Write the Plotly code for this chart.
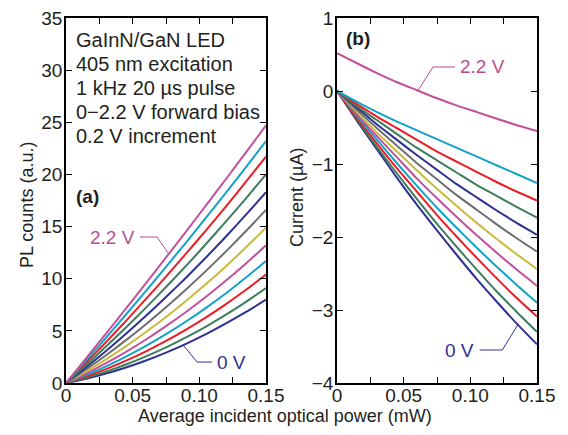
import plotly.graph_objects as go

# ---------------- data ----------------
power_mw = [0.0, 0.015, 0.03, 0.045, 0.06, 0.075, 0.09, 0.105, 0.12, 0.135, 0.15]
bias_labels = ["0 V", "0.2 V", "0.4 V", "0.6 V", "0.8 V", "1.0 V",
               "1.2 V", "1.4 V", "1.6 V", "1.8 V", "2.0 V", "2.2 V"]

# (a) PL counts (a.u.) per bias
pl_0_0 = [0, 0.41, 0.91, 1.49, 2.16, 2.92, 3.76, 4.69, 5.71, 6.81, 8.0]
pl_0_2 = [0, 0.50, 1.09, 1.77, 2.55, 3.41, 4.37, 5.41, 6.55, 7.78, 9.1]
pl_0_4 = [0, 0.62, 1.33, 2.14, 3.04, 4.03, 5.12, 6.30, 7.57, 8.94, 10.4]
pl_0_6 = [0, 0.75, 1.59, 2.53, 3.56, 4.68, 5.90, 7.21, 8.61, 10.11, 11.7]
pl_0_8 = [0, 0.90, 1.90, 2.99, 4.17, 5.45, 6.81, 8.27, 9.82, 11.46, 13.2]
pl_1_0 = [0, 1.09, 2.26, 3.53, 4.89, 6.33, 7.87, 9.49, 11.20, 13.01, 14.9]
pl_1_2 = [0, 1.29, 2.66, 4.11, 5.64, 7.26, 8.96, 10.75, 12.62, 14.57, 16.6]
pl_1_4 = [0, 1.50, 3.07, 4.72, 6.44, 8.24, 10.10, 12.04, 14.05, 16.14, 18.3]
pl_1_6 = [0, 1.71, 3.49, 5.33, 7.23, 9.20, 11.23, 13.33, 15.49, 17.71, 20.0]
pl_1_8 = [0, 1.94, 3.92, 5.96, 8.06, 10.20, 12.40, 14.64, 16.94, 19.30, 21.7]
pl_2_0 = [0, 2.15, 4.34, 6.57, 8.83, 11.14, 13.47, 15.85, 18.26, 20.71, 23.2]
pl_2_2 = [0, 2.36, 4.74, 7.15, 9.58, 12.04, 14.52, 17.03, 19.56, 22.12, 24.7]

# (b) Current (uA) per bias
cur_0_0 = [0, -0.41, -0.80, -1.19, -1.56, -1.91, -2.25, -2.58, -2.89, -3.19, -3.47]
cur_0_2 = [0, -0.39, -0.77, -1.13, -1.48, -1.82, -2.14, -2.45, -2.75, -3.03, -3.30]
cur_0_4 = [0, -0.37, -0.72, -1.06, -1.38, -1.70, -2.00, -2.29, -2.57, -2.84, -3.09]
cur_0_6 = [0, -0.34, -0.67, -0.99, -1.30, -1.60, -1.88, -2.15, -2.41, -2.66, -2.90]
cur_0_8 = [0, -0.32, -0.62, -0.91, -1.20, -1.47, -1.73, -1.98, -2.22, -2.45, -2.67]
cur_1_0 = [0, -0.29, -0.57, -0.83, -1.09, -1.34, -1.58, -1.81, -2.03, -2.24, -2.44]
cur_1_2 = [0, -0.26, -0.51, -0.75, -0.99, -1.21, -1.43, -1.63, -1.83, -2.02, -2.20]
cur_1_4 = [0, -0.23, -0.46, -0.67, -0.88, -1.08, -1.28, -1.46, -1.64, -1.81, -1.97]
cur_1_6 = [0, -0.21, -0.40, -0.59, -0.78, -0.95, -1.12, -1.29, -1.44, -1.59, -1.735]
cur_1_8 = [0, -0.18, -0.35, -0.51, -0.67, -0.83, -0.97, -1.11, -1.25, -1.38, -1.50]
cur_2_0 = [0, -0.15, -0.29, -0.42, -0.54, -0.66, -0.78, -0.90, -1.02, -1.14, -1.26]
cur_2_2 = [0.52, 0.38, 0.245, 0.12, 0.01, -0.10, -0.20, -0.29, -0.38, -0.47, -0.55]

pl_series = [pl_0_0, pl_0_2, pl_0_4, pl_0_6, pl_0_8, pl_1_0,
             pl_1_2, pl_1_4, pl_1_6, pl_1_8, pl_2_0, pl_2_2]
cur_series = [cur_0_0, cur_0_2, cur_0_4, cur_0_6, cur_0_8, cur_1_0,
              cur_1_2, cur_1_4, cur_1_6, cur_1_8, cur_2_0, cur_2_2]

x_tickvals = [0, 0.025, 0.05, 0.075, 0.10, 0.125, 0.15]
x_ticktext = ["0", "", "0.05", "", "0.10", "", "0.15"]
y1_tickvals = [0, 5, 10, 15, 20, 25, 30, 35]
y1_ticktext = ["0", "5", "10", "15", "20", "25", "30", "35"]
y2_tickvals = [-4, -3, -2, -1, 0, 1]
y2_ticktext = ["\u22124", "\u22123", "\u22122", "\u22121", "0", "1"]

info_lines = ["GaInN/GaN LED", "405 nm excitation", "1 kHz 20 \u00b5s pulse",
              "0\u22122.2 V forward bias", "0.2 V increment"]

# ---------------- style ----------------
cycle = ["#2E3192", "#3E7D5B", "#EC1C24", "#12A2C9", "#C2509A", "#CBB93C", "#6D6E71"]
colors = [cycle[i % 7] for i in range(12)]
PINK = "#B84E8C"
NAVY = "#2E3192"
TXT = "#231F20"
FONT = "Liberation Sans, Arial, sans-serif"
FS = 19

fig = go.Figure()
for i in range(12):
    fig.add_trace(go.Scatter(x=power_mw, y=pl_series[i], mode="lines",
                             line=dict(color=colors[i], width=2, shape="spline", smoothing=0.6),
                             name=bias_labels[i], xaxis="x", yaxis="y", showlegend=False))
    fig.add_trace(go.Scatter(x=power_mw, y=cur_series[i], mode="lines",
                             line=dict(color=colors[i], width=2, shape="spline", smoothing=0.6),
                             name=bias_labels[i], xaxis="x2", yaxis="y2", showlegend=False))

axis_common = dict(showline=True, linecolor="black", linewidth=1.5, mirror="ticks",
                   ticks="inside", ticklen=6, tickwidth=1.3, tickcolor="black",
                   showgrid=False, zeroline=False, automargin=False,
                   tickfont=dict(family=FONT, size=FS, color=TXT))

fig.update_layout(
    width=568, height=435,
    margin=dict(l=0, r=0, t=18, b=52, autoexpand=False),
    plot_bgcolor="white", paper_bgcolor="white",
    showlegend=False,
    xaxis=dict(domain=[66/568, 266/568], range=[0, 0.15], tickvals=x_tickvals,
               ticktext=x_ticktext, anchor="y", ticklabelstandoff=-6, **axis_common),
    yaxis=dict(domain=[0, 1], range=[0, 35], tickvals=y1_tickvals,
               ticktext=y1_ticktext, anchor="x", ticklabelstandoff=-2, **axis_common),
    xaxis2=dict(domain=[337/568, 537/568], range=[0, 0.15], tickvals=x_tickvals,
                ticktext=x_ticktext, anchor="y2", ticklabelstandoff=-6, **axis_common),
    yaxis2=dict(domain=[0, 1], range=[-4, 1], tickvals=y2_tickvals,
                ticktext=y2_ticktext, anchor="x2", ticklabelstandoff=-2, **axis_common),
)

ann = []
# info text box
for j, (line, py) in enumerate(zip(info_lines, [40, 64, 88, 112, 136])):
    ann.append(dict(x=74/568, y=(383-py)/365, xref="paper", yref="paper",
                    text=line, showarrow=False, xanchor="left", yanchor="middle",
                    font=dict(family=FONT, size=20, color=TXT)))
ann.append(dict(x=74/568, y=(383-196)/365, xref="paper", yref="paper", text="<b>(a)</b>",
                showarrow=False, xanchor="left", yanchor="middle",
                font=dict(family=FONT, size=FS, color=TXT)))
ann.append(dict(x=344/568, y=(383-38)/365, xref="paper", yref="paper", text="<b>(b)</b>",
                showarrow=False, xanchor="left", yanchor="middle",
                font=dict(family=FONT, size=FS, color=TXT)))
# axis titles
ann.append(dict(x=285/568, y=(383-416)/365, xref="paper", yref="paper",
                text="Average incident optical power (mW)", showarrow=False,
                xanchor="center", yanchor="middle", font=dict(family=FONT, size=18, color=TXT)))
ann.append(dict(x=27/568, y=(383-205)/365, xref="paper", yref="paper",
                text="PL counts (a.u.)", showarrow=False, textangle=-90,
                xanchor="center", yanchor="middle", font=dict(family=FONT, size=18, color=TXT)))
ann.append(dict(x=297/568, y=(383-198)/365, xref="paper", yref="paper",
                text="Current (\u00b5A)", showarrow=False, textangle=-90,
                xanchor="center", yanchor="middle", font=dict(family=FONT, size=18, color=TXT)))
# curve labels
ann.append(dict(x=0.053, y=14.0, xref="x", yref="y", text="2.2 V", showarrow=False,
                xanchor="right", yanchor="middle", font=dict(family=FONT, size=FS, color=PINK)))
ann.append(dict(x=0.112, y=2.01, xref="x", yref="y", text="0 V", showarrow=False,
                xanchor="left", yanchor="middle", font=dict(family=FONT, size=FS, color=NAVY)))
ann.append(dict(x=0.091, y=0.329, xref="x2", yref="y2", text="2.2 V", showarrow=False,
                xanchor="left", yanchor="middle", font=dict(family=FONT, size=FS, color=PINK)))
ann.append(dict(x=0.1045, y=-3.548, xref="x2", yref="y2", text="0 V", showarrow=False,
                xanchor="right", yanchor="middle", font=dict(family=FONT, size=FS, color=NAVY)))
fig.update_layout(annotations=ann)

shapes = [
    dict(type="path", xref="x", yref="y", path="M 0.0555 14.0 L 0.0683 14.0 L 0.0765 12.46",
         line=dict(color=PINK, width=1)),
    dict(type="path", xref="x", yref="y", path="M 0.1095 2.01 L 0.0983 2.01 L 0.0878 3.64",
         line=dict(color=NAVY, width=1)),
    dict(type="path", xref="x2", yref="y2", path="M 0.0885 0.329 L 0.072 0.329 L 0.06 -0.014",
         line=dict(color=PINK, width=1)),
    dict(type="path", xref="x2", yref="y2", path="M 0.107 -3.548 L 0.124 -3.548 L 0.136 -3.19",
         line=dict(color=NAVY, width=1)),
]
fig.update_layout(shapes=shapes)

fig.write_html("out.html", config={"displayModeBar": False},
               post_script="document.body.style.margin='0';")
